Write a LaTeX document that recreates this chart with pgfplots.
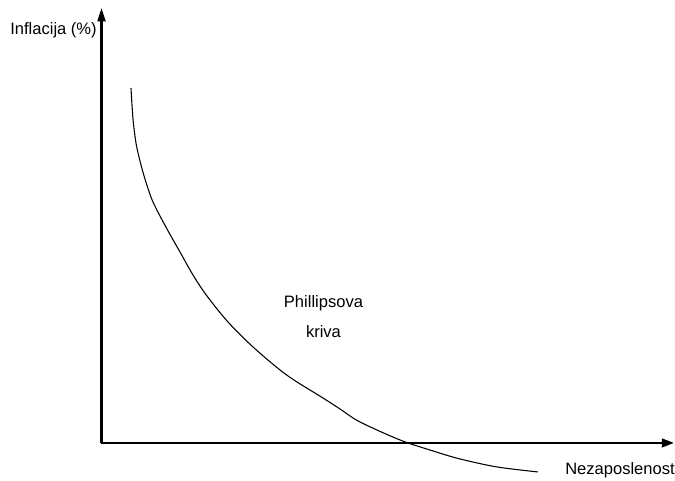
\documentclass[border=0pt]{standalone}
\usepackage{pgfplots}
\pgfplotsset{compat=1.18}
\usepackage{fontspec}
\setmainfont{Liberation Sans}
\usetikzlibrary{arrows.meta}
\begin{document}
\begin{tikzpicture}
\begin{axis}[
  x=0.75pt, y=0.75pt,
  xmin=101.5, xmax=674, ymin=38, ymax=473,
  axis x line=bottom, axis y line=left,
  every outer x axis line/.append style={line width=1.6pt, -{Triangle[length=9pt,width=6.5pt]}},
  every outer y axis line/.append style={line width=1.6pt, -{Triangle[length=10pt,width=6pt]}},
  xtick=\empty, ytick=\empty,
  clip=false,
  font=\fontsize{12.4}{14}\selectfont,
]
\path (axis cs:0,0) rectangle (axis cs:675,481);
\addplot[black, line width=0.8pt, smooth, tension=0.5] coordinates {
(131,393) (133,362) (136,338) (140,320) (145,302) (153,279) (167,252)
(180,229) (193,206) (207,185) (228,159) (253,134) (280,111) (297,99)
(323,83) (340,72) (360,59) (400,41) (433,30) (460,22) (497,14) (538,9)
};
\node[anchor=east, inner sep=0pt] at (axis cs:97,451) {Inflacija (\%)};
\node[anchor=east, inner sep=0pt] at (axis cs:675,11) {Nezaposlenost};
\node[align=center, inner sep=0pt, font=\fontsize{12.4}{22.5}\selectfont] at (axis cs:323.5,164) {Phillipsova\\kriva};
\end{axis}
\end{tikzpicture}
\end{document}
